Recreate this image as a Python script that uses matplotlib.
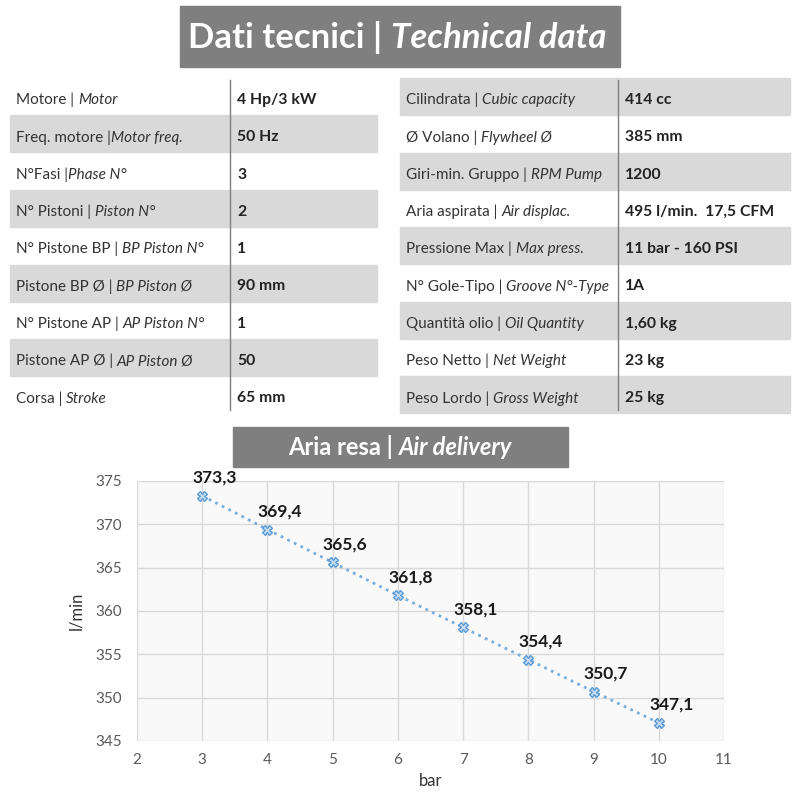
import numpy as np
import matplotlib.pyplot as plt
from matplotlib.patches import Rectangle

plt.rcParams['font.family'] = ['Lato', 'DejaVu Sans']

# Dati tabella sinistra (italiano, inglese, valore)
sx_ita = ["Motore | ", "Freq. motore |", "N°Fasi |", "N° Pistoni | ", "N° Pistone BP | ",
          "Pistone BP Ø | ", "N° Pistone AP | ", "Pistone AP Ø | ", "Corsa | "]
sx_eng = ["Motor", "Motor freq.", "Phase N°", "Piston N°", "BP Piston N°",
          "BP Piston Ø", "AP Piston N°", "AP Piston Ø", "Stroke"]
sx_val = ["4 Hp/3 kW", "50 Hz", "3", "2", "1", "90 mm", "1", "50", "65 mm"]

# Dati tabella destra
dx_ita = ["Cilindrata | ", "Ø Volano | ", "Giri-min. Gruppo | ", "Aria aspirata | ",
          "Pressione Max | ", "N° Gole-Tipo | ", "Quantità olio | ", "Peso Netto | ", "Peso Lordo | "]
dx_eng = ["Cubic capacity", "Flywheel Ø", "RPM Pump", "Air displac.", "Max press.",
          "Groove N°-Type", "Oil Quantity", "Net Weight", "Gross Weight"]
dx_val = ["414 cc", "385 mm", "1200", "495 l/min.  17,5 CFM", "11 bar - 160 PSI",
          "1A", "1,60 kg", "23 kg", "25 kg"]

# Aria resa
pressione = [3, 4, 5, 6, 7, 8, 9, 10]          # bar
aria = [373.3, 369.4, 365.6, 361.8, 358.1, 354.4, 350.7, 347.1]   # l/min

grigio = '#7f7f7f'
fascia = '#d9d9d9'
testo = '#333333'

fig = plt.figure(figsize=(8, 8), dpi=100)
bg = fig.add_axes([0, 0, 1, 1])
bg.set_xlim(0, 800)
bg.set_ylim(800, 0)
bg.axis('off')

# Titolo
bg.add_patch(Rectangle((180, 6), 440, 61, color=grigio))
t1 = bg.text(188, 38, "Dati tecnici | ", color='white', fontsize=25, fontweight='bold', va='center')
bg.annotate("Technical data", xy=(1, 0), xycoords=t1, va='bottom', color='white',
            fontsize=25, fontstyle='italic', fontweight='bold')

def tabella(x0, x1, xsep, ita, eng, val, pari):
    for i in range(len(ita)):
        yc = 100 + i * 37.3
        if (i % 2 == 1) == pari:
            bg.add_patch(Rectangle((x0, yc - 22), x1 - x0, 37, color=fascia, zorder=0))
        t = bg.text(x0 + 6, yc, ita[i], fontsize=11, color=testo, va='center')
        bg.annotate(eng[i], xy=(1, 0), xycoords=t, va='bottom', fontsize=11,
                    fontstyle='italic', color=testo)
        bg.text(xsep + 7, yc, val[i], fontsize=11.3, fontweight='bold', color='#222222', va='center')
    bg.plot([xsep, xsep], [80, 410], color=grigio, lw=1)

tabella(10, 377, 230, sx_ita, sx_eng, sx_val, True)
tabella(400, 790, 618, dx_ita, dx_eng, dx_val, False)

# Titolo grafico
bg.add_patch(Rectangle((233, 427), 335, 40, color=grigio))
t2 = bg.text(288, 447, "Aria resa | ", color='white', fontsize=17, fontweight='bold', va='center')
bg.annotate("Air delivery", xy=(1, 0), xycoords=t2, va='bottom', color='white',
            fontsize=17, fontstyle='italic', fontweight='bold')

# Grafico
ax = fig.add_axes([137 / 800, 1 - 741 / 800, (724 - 137) / 800, (741 - 481) / 800])
ax.set_facecolor('#f9f9f9')
ax.plot(pressione, aria, linestyle=':', color='#7aaedc', lw=2,
        marker='X', markersize=7, markerfacecolor='#c5dcf0', markeredgecolor='#5b9bd5', zorder=3)
for x, y in zip(pressione, aria):
    ax.annotate(f"{y:.1f}".replace('.', ','), xy=(x, y), xytext=(9, 13), textcoords='offset points',
                ha='center', va='center', fontsize=12.5, fontweight='bold', color='#1a1a1a')
ax.set_xlim(2, 11)
ax.set_ylim(345, 375)
ax.set_xticks(range(2, 12))
ax.set_yticks(range(345, 376, 5))
ax.grid(True, color='#d9d9d9', lw=1)
ax.set_axisbelow(True)
for s in ax.spines.values():
    s.set_visible(False)
ax.tick_params(length=0, labelsize=11, labelcolor='#595959')
ax.tick_params(axis='y', pad=11)
ax.tick_params(axis='x', pad=9)
ax.set_xlabel("bar", fontsize=12, color='#333333', labelpad=4)
ax.set_ylabel("l/min", fontsize=12, color='#333333', labelpad=8)

fig.savefig("out.png", dpi=100)
